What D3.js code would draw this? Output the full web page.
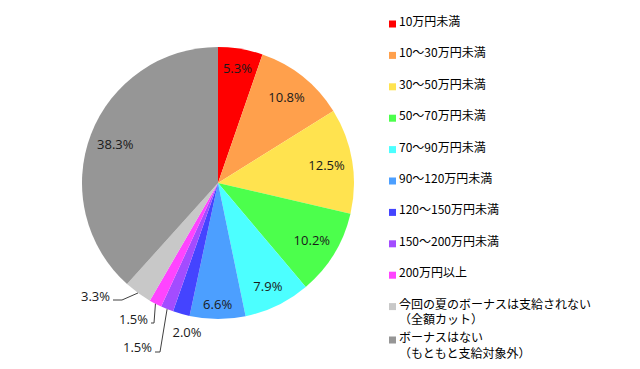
<!DOCTYPE html>
<html>
<head>
<meta charset="utf-8">
<script src="https://cdn.jsdelivr.net/npm/d3@7"></script>
<style>
  body { margin: 0; background: #fff; }
  svg { display: block; }
</style>
</head>
<body>
<svg id="chart" width="640" height="369"></svg>
<script>
// categories (legend order = slice order, clockwise from 12 o'clock)
var categories = [
    "10万円未満",
    "10～30万円未満",
    "30～50万円未満",
    "50～70万円未満",
    "70～90万円未満",
    "90～120万円未満",
    "120～150万円未満",
    "150～200万円未満",
    "200万円以上",
    "今回の夏のボーナスは支給されない\n（全額カット）",
    "ボーナスはない\n（もともと支給対象外）"
];
// share in percent
var values = [5.3, 10.8, 12.5, 10.2, 7.9, 6.6, 2.0, 1.5, 1.5, 3.3, 38.3];
var colors = ["#ff0000", "#ffa04c", "#ffe34f", "#4cff4c", "#4cffff", "#4c9fff",
              "#4444ff", "#a34cff", "#ff44ff", "#c8c8c8", "#969696"];

var svg = d3.select("#chart");
var cx = 218, cy = 183, R = 136;

var pie = d3.pie().sort(null).value(function (d) { return d; });
var arcs = pie(values);
var arc = d3.arc().innerRadius(0).outerRadius(R);
var edgeArc = d3.arc().innerRadius(R).outerRadius(R);

var g = svg.append("g").attr("transform", "translate(" + cx + "," + cy + ")");

g.selectAll("path")
    .data(arcs)
    .enter()
    .append("path")
    .attr("d", arc)
    .attr("fill", function (d, i) { return colors[i]; });

// labels inside the slices (radius tweaks where the original pushes them out)
var labelRadius = { 0: 117, 4: 114, 5: 121 };
var fmt = function (v) { return v.toFixed(1) + "%"; };

g.selectAll("text.inside")
    .data(arcs.filter(function (d, i) { return i <= 5 || i == 10; }))
    .enter()
    .append("text")
    .attr("class", "inside")
    .attr("transform", function (d) {
        var r = labelRadius[d.index] || 110;
        var c = d3.arc().innerRadius(r).outerRadius(r).centroid(d);
        return "translate(" + c[0] + "," + c[1] + ")";
    })
    .attr("text-anchor", "middle")
    .attr("dominant-baseline", "central")
    .style("font-family", "'Open Sans', 'Noto Sans', sans-serif")
    .style("font-size", "13px")
    .style("fill", "#1a1a1a")
    .text(function (d) { return fmt(d.data); });

// small slices: labels outside, some with leader lines
// offsets are relative to the pie centre; line = elbow points before the slice edge
var callouts = {
    6: { x: -31, y: 149, anchor: "middle" },
    7: { x: -66, y: 164, anchor: "end", line: [[-63, 169], [-58, 169]] },
    8: { x: -70, y: 136, anchor: "end", line: [[-67, 140], [-64, 140]] },
    9: { x: -108, y: 113, anchor: "end", line: [[-105, 117], [-96, 117]] }
};

Object.keys(callouts).forEach(function (k) {
    var d = arcs[+k], c = callouts[k];
    if (c.line) {
        var pts = c.line.concat([edgeArc.centroid(d)]);
        g.append("path")
            .attr("d", d3.line()(pts))
            .attr("fill", "none")
            .attr("stroke", "#404040")
            .attr("stroke-width", 1);
    }
    g.append("text")
        .attr("x", c.x)
        .attr("y", c.y)
        .attr("text-anchor", c.anchor)
        .attr("dominant-baseline", "central")
        .style("font-family", "'Open Sans', 'Noto Sans', sans-serif")
        .style("font-size", "13px")
        .style("fill", "#1a1a1a")
        .text(fmt(d.data));
});

// legend
var legend = svg.append("g").attr("transform", "translate(389,0)");
var rows = legend.selectAll("g")
    .data(categories)
    .enter()
    .append("g")
    .attr("transform", function (d, i) {
        var y = 24 + i * 31.4 + (i == 10 ? 2 : 0);
        return "translate(0," + y + ")";
    });

rows.append("rect")
    .attr("x", 0)
    .attr("y", -3.5)
    .attr("width", 7)
    .attr("height", 7)
    .attr("fill", function (d, i) { return colors[i]; });

rows.append("text")
    .style("font-family", "'Noto Sans CJK JP', sans-serif")
    .style("font-size", "12px")
    .style("fill", "#000")
    .selectAll("tspan")
    .data(function (d) { return d.split("\n"); })
    .enter()
    .append("tspan")
    .attr("x", 10)
    .attr("y", function (d, j) { return 2 + j * 15.5; })
    .text(function (d) { return d; });
</script>
</body>
</html>
